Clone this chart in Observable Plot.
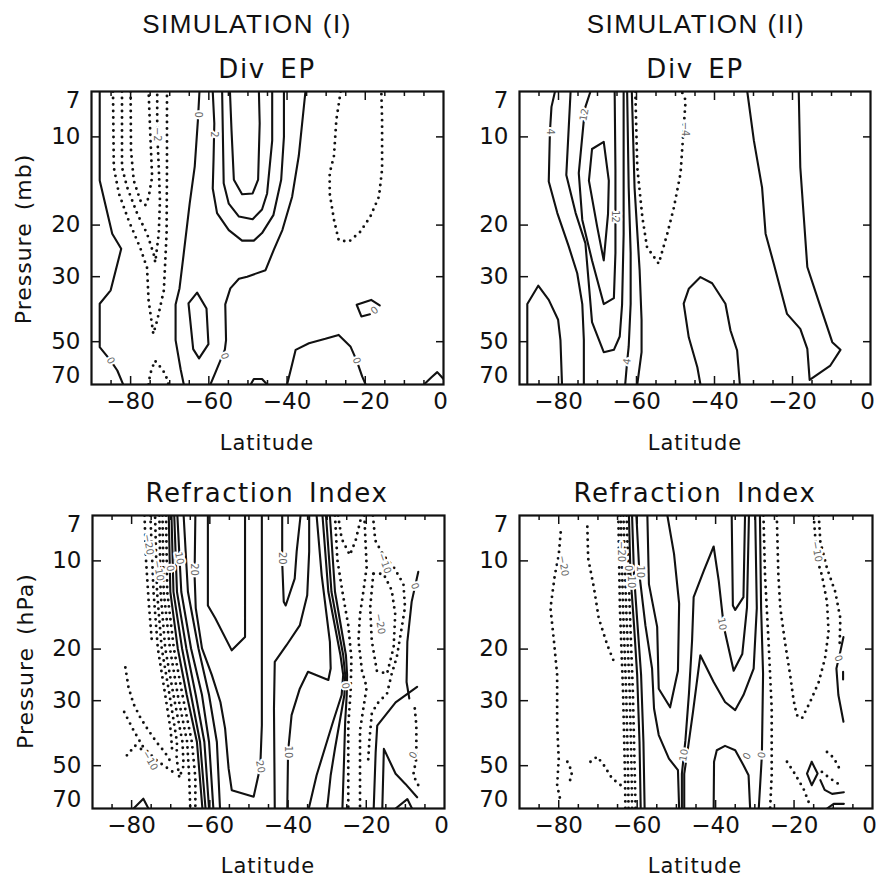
<!DOCTYPE html>
<html><head><meta charset="utf-8">
<script src="https://cdn.jsdelivr.net/npm/d3@7"></script>
<script src="https://cdn.jsdelivr.net/npm/@observablehq/plot@0.6"></script>
<style>
body{margin:0;background:#fff;}
#root{position:relative;width:877px;height:877px;overflow:hidden;background:#fff;}
#root svg{position:absolute;}
</style></head><body><div id="root"></div>
<script>
// ---------- axis values ----------
const xMajor = [-80, -60, -40, -20];
const xMinor = [-85, -75, -70, -65, -55, -50, -45, -35, -30, -25, -15, -10, -5];
const xLabels = [-80, -60, -40, -20];
const xLabelEnd = [0];
const yTicks = [10, 20, 30, 50];
const yLabelsMid = [10, 20, 30, 50];
const yLabelTop = [7];
const yLabelBottom = [70];

// ---------- Panel 1: Div EP, simulation I  [lat, pressure] ----------
const divEP1Solid = [
  [[-87.9,7],[-87.9,14.1],[-84.7,21.4],[-82.4,24.1],[-85.1,33.4],[-87.9,37.1],[-87.9,52.2],[-85.1,58],[-83.4,62.7],[-81.9,70]],
  [[-62.4,7],[-62.8,8.8],[-63.6,12.6],[-64.9,16.9],[-66.4,24.9],[-67.5,32.9],[-68.5,37.3],[-68.5,49.4],[-67.2,62.2],[-66.4,70]],
  [[-65.2,37],[-63,34],[-60.6,38.5],[-60.1,51],[-62.5,57],[-64,53],[-65.2,37]],
  [[-54.6,7],[-54.2,9.5],[-53.6,14.0],[-51.5,15.7],[-48.8,15.6],[-47.4,14.0],[-47.0,9],[-47.2,7]],
  [[-56.6,7],[-56.2,14.4],[-54.9,16.9],[-52.3,18.7],[-48.8,19.1],[-46.4,17.7],[-45.1,15.6],[-43.8,10.3],[-43.8,7]],
  [[-59.0,7],[-58.6,9],[-58.8,12],[-59.0,15],[-57.9,18.2],[-54.9,20.8],[-51.5,22.6],[-48.5,22.6],[-46.4,21.3],[-43.5,18.5],[-41.5,14],[-40.8,10],[-40.8,7]],
  [[-35.3,7],[-37.0,11.6],[-38.7,16],[-41.2,20.8],[-43.4,24.3],[-45.5,28.5],[-50.2,30],[-52.3,30.5],[-54.5,32.9],[-55.8,37.3],[-55.6,49.4],[-55.9,53.2],[-58.3,63.6],[-59.6,70]],
  [[-49.3,70],[-48.5,67],[-46.4,67],[-45.1,70]],
  [[-40.0,70],[-39.0,62],[-37.8,53.3],[-34.4,50.6],[-30.2,48.9],[-26.8,47.4],[-23.8,51.9],[-22.2,58],[-20.8,65.7],[-19.9,70]],
  [[-16.3,37.6],[-18.5,36.0],[-22.2,37.4],[-21.0,41.0],[-18.8,40.3]],
  [[-5,70],[-3,66],[-1.6,63.5],[0,67]]
];
const divEP1Dotted = [
  [[-80.0,7],[-79.9,11.1],[-79.2,14.1],[-77.5,16.5],[-76.2,17.1],[-75.4,16.1],[-74.5,13.7],[-74.9,10.3],[-75.4,7]],
  [[-82.2,7],[-82.2,12.7],[-80.9,14.85],[-78.3,18.3],[-75.8,21.4],[-74.1,25.1],[-73.7,26.8],[-72.8,21.4],[-72.5,16.5],[-72.8,12.7],[-73.2,9.7],[-73.2,7]],
  [[-84.5,7],[-84.3,12.7],[-83.0,15.6],[-80.5,19.3],[-77.5,24],[-75.8,28],[-75.4,36.2],[-74.2,47.0],[-73.2,42.3],[-71.5,33.4],[-70.8,21.4],[-70.7,12.7],[-70.7,7]],
  [[-75.4,70],[-75.0,64.5],[-73.8,58],[-72.4,61],[-71.1,64.5],[-70.3,70]],
  [[-26.3,7],[-27.4,8.75],[-28.0,11.6],[-29.1,13.3],[-29.1,15.6],[-28.0,19.2],[-26.8,22.5],[-24.2,22.8],[-21.3,21.1],[-18.7,18.7],[-16.5,16.0],[-15.7,12.9],[-15.7,8.75],[-15.9,7]]
];
const divEP1Labels = [
  {lat:-62.8,p:8.4,t:"0",r:90},{lat:-58.7,p:9.8,t:"2",r:90},{lat:-73.2,p:9.8,t:"−2",r:90},
  {lat:-85.1,p:58,t:"0",r:60},{lat:-56.0,p:56,t:"0",r:70},{lat:-22.2,p:58,t:"0",r:70},{lat:-17.6,p:39.1,t:"0",r:-40}
];

// ---------- Panel 2: Div EP, simulation II ----------
const divEP2Solid = [
  [[-88.0,70],[-88.0,37.2],[-85.2,32.2],[-82.5,36.0],[-80.1,42.1],[-79.5,49.4],[-79.1,70]],
  [[-80.9,7],[-81.8,7.9],[-82.2,9.6],[-82.5,14.2],[-80.3,18.2],[-77.4,23.6],[-75.2,29.2],[-73.9,37.2],[-73.5,49.4],[-73.5,70]],
  [[-76.9,7],[-78.0,13.5],[-75.6,18.2],[-73.1,23.1],[-71.4,42.9],[-68.4,54.3],[-65.8,53.3],[-64.3,48],[-63.7,37.4],[-63.3,21.5],[-63.3,7]],
  [[-71.8,7],[-73.1,7.9],[-73.5,8.75],[-74.8,13.3],[-73.9,19.2],[-71.4,26.4],[-68.4,37.2],[-65.8,35.5],[-65.4,24.9],[-65.4,18.7],[-65.4,13.0],[-65.6,7]],
  [[-71.4,11.0],[-68.4,10.4],[-67.1,14.1],[-67.3,18.3],[-68.4,26.4],[-70.1,20.2],[-72.2,14.1],[-71.4,11.0]],
  [[-62.4,7],[-62.0,14.9],[-61.5,24.9],[-61.5,37.2],[-62.0,51.9],[-62.4,58.5],[-62.9,70]],
  [[-61.2,7],[-60.5,14.9],[-59.2,28.5],[-58.7,42.1],[-58.7,54.3],[-59.8,70]],
  [[-43.6,70],[-44.4,61.1],[-46.6,48.3],[-47.9,37.1],[-46.6,33],[-43.6,30.1],[-40.6,31.6],[-37.2,37.1],[-35.9,45.8],[-34.2,53.6],[-33.5,70]],
  [[-31.6,7],[-29.9,10.3],[-27.8,14.9],[-26.9,21.4],[-24.8,27.1],[-21.4,40.2],[-18.0,45.2],[-16.2,52.9],[-15.6,67.5],[-10.3,60.3],[-7.7,53.3],[-9.8,50.2],[-12.8,38.1],[-16.2,27.8],[-17.1,18.8],[-18.0,12.7],[-18.4,7]]
];
const divEP2Dotted = [
  [[-60.3,7],[-59.8,12.7],[-58.5,18.8],[-57.3,23.8],[-54.3,27.1],[-52.1,21.4],[-50.4,17.4],[-48.7,13.3],[-47.9,9.3],[-47.4,7.5],[-48.3,7.05]]
];
const divEP2Labels = [
  {lat:-82.2,p:9.6,t:"4",r:90},{lat:-73.4,p:8.4,t:"12",r:-80},{lat:-65.4,p:18.7,t:"12",r:90},
  {lat:-62.4,p:58.5,t:"4",r:-80},{lat:-47.6,p:9.4,t:"−4",r:90}
];

// ---------- Panel 3: Refraction index, simulation I ----------
const refr1Solid = [
  [[-70.5,7],[-70.1,12.75],[-68.2,19.9],[-65.9,28.7],[-63.3,41.5],[-61.9,70]],
  [[-69.8,7],[-69.3,12.75],[-67.1,19.9],[-64.8,28.7],[-62.5,41.5],[-61.1,70]],
  [[-69.1,7],[-68.4,12.75],[-66.0,19.9],[-63.6,28.7],[-61.4,41.5],[-60.2,70]],
  [[-68.3,7],[-67.3,12.75],[-64.8,19.9],[-62.0,28.7],[-60.2,41.5],[-59.1,70]],
  [[-66.7,7],[-65.6,12.75],[-62.9,19.9],[-60.2,28.7],[-58.2,41.5],[-57.4,70]],
  [[-63.7,7],[-63.9,11.2],[-63.6,14.5],[-62.0,19.9],[-59.5,24.5],[-57.3,30.3],[-56.1,37.3],[-55.2,51.1],[-54.4,60.6],[-48.8,63.8],[-47.1,50.4],[-46.7,36.4],[-46.7,7]],
  [[-60.5,7],[-60.5,14.2],[-58.6,15.7],[-54.4,20.2],[-51.0,18.2],[-51.0,7]],
  [[-41.5,7],[-41.5,10.1],[-41.1,13.8],[-40.6,14.2],[-38.3,11.5],[-37.8,9.3],[-36.8,7]],
  [[-34.6,7],[-34.6,9.3],[-35.1,13.1],[-37.0,16.6],[-40.4,19.4],[-43.4,22.1],[-43.6,31.9],[-43.4,70]],
  [[-32.7,7],[-31.4,11.2],[-29.3,18.9],[-29.1,23.3],[-29.7,25.5],[-34.9,23.9],[-37.0,27.3],[-39.1,33.6],[-40.0,44.9],[-40.2,70]],
  [[-31.2,7],[-29.7,12.75],[-26.6,21.0],[-25.9,24.5],[-26.3,28.7],[-28.5,35.4],[-30.6,43.7],[-32.7,53.9],[-34.7,70]],
  [[-30.3,7],[-28.9,12.75],[-25.9,21.0],[-25.4,24.5],[-25.6,28.7],[-26.8,35.4],[-28.0,43.7],[-29.1,53.9],[-30.0,70]],
  [[-29.3,7],[-28.0,12.75],[-25.2,21.0],[-24.9,24.5],[-25.0,28.7],[-25.4,35.4],[-25.7,48.5],[-26.1,70]],
  [[-6.7,10.9],[-8.4,13.8],[-9.5,18.9],[-9.7,25.9],[-9.0,29.5]],
  [[-7.0,26.9],[-12.5,30.4],[-17.2,36.5],[-17.6,45],[-18.1,70]],
  [[-15.9,70],[-15.5,43.8],[-12.5,53.3],[-10.0,57.7],[-7.0,64.1]],
  [[-12.5,70],[-9.5,65],[-8.3,70]],
  [[-79.5,70],[-77.0,64.8],[-75.7,70]]
];
const refr1Dotted = [
  [[-71.2,7],[-70.9,12.75],[-69.2,19.9],[-67.0,28.7],[-64.6,41.5],[-63.7,55],[-63.7,70]],
  [[-72.1,7],[-71.8,12.75],[-70.2,19.9],[-68.2,28.7],[-65.8,41.5],[-65.3,53.9],[-65.0,70]],
  [[-72.9,7],[-72.6,12.75],[-71.4,19.9],[-69.3,28.7],[-67.0,41.5],[-66.7,50],[-67.8,55],[-68.5,47],[-68.4,41.5],[-70.3,28.7],[-72.3,19.9],[-73.5,12.75],[-74.0,7]],
  [[-75.2,7],[-74.4,12.75],[-73.3,19.9],[-71.4,28.7],[-70.0,38],[-69.6,45]],
  [[-76.7,7],[-76.3,10],[-75.6,14],[-74.8,19]],
  [[-81.6,23.1],[-80.8,27.0],[-79.5,30.8],[-77.8,34.2],[-75.7,37.9],[-73.6,41.6],[-71.5,45],[-70.2,48]],
  [[-81.9,32.8],[-79.5,37.9],[-77.0,43.3],[-73.6,48],[-69.5,52.5]],
  [[-81.2,46.1],[-79.1,42.7],[-77.4,44]],
  [[-28.0,7],[-27.4,9.9],[-26.1,12.75],[-24.6,16.6],[-23.8,21.5],[-24.0,28.0],[-24.6,36.4],[-24.6,47.3],[-24.6,70]],
  [[-27.2,7],[-26.3,8.4],[-24.2,9.56],[-22.7,8.5],[-21.2,7]],
  [[-20.5,7],[-19.9,10.5],[-20.7,12.6],[-21.6,15.2],[-22.0,18.7],[-21.1,23.7],[-19.9,27.0],[-20.7,31.6],[-21.6,37.9],[-21.6,70]],
  [[-18.3,7],[-17.7,8.52],[-15.6,9.58],[-13.0,10.5],[-10.5,12.0],[-10.1,14.4],[-10.9,16.8],[-12.2,21.3],[-13.5,24.3],[-14.7,28.4],[-17.3,30.8],[-18.6,33.3],[-19.2,41.0],[-19.6,50]],
  [[-18.2,11.07],[-19.0,14.4],[-18.6,18.7],[-17.3,23.7],[-14.7,24.3],[-13.0,19.7],[-12.6,15.2],[-13.5,12.6],[-15.6,11.07],[-18.2,11.07]],
  [[-7.6,31.9],[-7.2,36.4],[-7.2,47.3],[-8.0,53.9],[-6.7,58.3]]
];
const refr1Labels = [
  {lat:-75.7,p:8.8,t:"−20",r:80},{lat:-73.1,p:10.8,t:"−10",r:80},{lat:-70.1,p:10.6,t:"0",r:80},
  {lat:-67.8,p:9.8,t:"10",r:80},{lat:-63.9,p:10.7,t:"20",r:90},{lat:-47.1,p:50.4,t:"20",r:80},
  {lat:-41.6,p:9.8,t:"20",r:90},{lat:-40.0,p:44.9,t:"10",r:90},{lat:-25.3,p:26.7,t:"0",r:80},
  {lat:-15.3,p:10.2,t:"−10",r:70},{lat:-16.5,p:16.4,t:"−20",r:80},{lat:-7.6,p:12.2,t:"0",r:70},
  {lat:-8.0,p:46,t:"0",r:-60},{lat:-75.3,p:48,t:"−10",r:60}
];

// ---------- Panel 4: Refraction index, simulation II ----------
const refr2Solid = [
  [[-62.1,7],[-61.7,11.2],[-60.8,16.6],[-60.0,24.5],[-59.4,41.5],[-59.1,70]],
  [[-61.3,7],[-60.8,11.2],[-59.9,16.6],[-59.0,24.5],[-58.4,41.5],[-58.1,70]],
  [[-60.2,7],[-59.4,11.2],[-57.9,16.6],[-56.2,23.3],[-55.7,31.9],[-54.5,39.3],[-51.9,47.3],[-49.6,51.8],[-49.3,70]],
  [[-57.4,7],[-57.0,12.0],[-54.9,16.8],[-54.5,27.3],[-51.6,31.6],[-49.6,23.7],[-49.3,14.0],[-50.6,9.46],[-52.3,7]],
  [[-48.6,70],[-48.6,53.3],[-47.7,41.0],[-46.8,28.4],[-46.0,18.7],[-45.6,13.3],[-43.0,10.8],[-40.5,8.93],[-39.2,11.7],[-37.9,16.8],[-35.4,23.7],[-33.2,20.8],[-32.0,14.4],[-31.5,7]],
  [[-48.0,70],[-48.0,53.3],[-47.2,45],[-45.8,33],[-43.9,21.0],[-40.5,25.9],[-37.6,30.3],[-35.0,32.3],[-32.9,28.7],[-30.3,23.3],[-29.5,14.5],[-29.9,7]],
  [[-35.9,7],[-35.6,14.2],[-35.0,14.7],[-32.9,13.3],[-32.5,7]],
  [[-28.7,7],[-28.4,14.5],[-27.9,24.3],[-28.2,46.0],[-29.0,70]],
  [[-40.5,70],[-40.4,48.5],[-39.7,44.3],[-37.6,42.8],[-35.0,44.3],[-32.9,49.8],[-31.6,53.9],[-31.2,70]],
  [[-7.4,18.2],[-8.2,20.4],[-9.2,23.3],[-8.7,28.7],[-7.4,35.4]],
  [[-7.5,23.9],[-7.5,25.4]],
  [[-15.5,48.5],[-14.0,53.2],[-15.5,58.3],[-16.7,53.2],[-15.5,48.5]],
  [[-13.3,56],[-12.2,60.5],[-10.3,62.4],[-7.3,61.6]],
  [[-11.6,70],[-9.9,67.5],[-7.3,67.5]]
];
const refr2Dotted = [
  [[-62.7,7],[-61.9,14.5],[-61.1,28.0],[-60.6,53.9],[-60.4,70]],
  [[-63.5,7],[-62.8,14.5],[-61.9,28.0],[-61.4,53.9],[-61.3,70]],
  [[-64.2,7],[-63.6,14.5],[-62.8,28.0],[-62.3,53.9],[-62.2,70]],
  [[-64.8,7],[-64.4,14.5],[-63.6,28.0],[-63.1,53.9],[-63.0,70]],
  [[-79.5,8.0],[-80.0,9.56],[-81.0,11.2],[-82.1,14.5],[-81.2,18.9],[-80.4,24.5],[-80.4,36.4],[-80.0,47.3],[-80.4,58.3],[-79.5,66.4]],
  [[-72.7,7.65],[-72.5,9.8],[-71.0,12.4],[-69.8,15.7],[-67.6,19.4],[-65.5,22.8]],
  [[-71.9,48.5],[-70.2,46.6],[-68.5,49.8],[-66.4,55.3],[-64.2,58.3]],
  [[-77.8,48.5],[-76.6,52.5],[-77.4,58.3]],
  [[-27.8,7],[-27.4,11.2],[-26.5,18.9],[-25.7,31.9],[-25.7,53.9],[-26.1,70]],
  [[-24.4,7],[-24.0,11.2],[-23.5,14.5],[-22.3,19],[-21.0,24.5],[-20.1,30],[-19.3,33.6],[-18.0,34.5],[-15.9,30.3],[-13.7,25.9],[-12.1,21.5],[-11.2,17.5],[-11.6,13.8],[-12.9,11.2],[-14.2,9.8],[-15.0,7]],
  [[-13.7,7],[-13.3,8.6],[-11.6,10.6],[-9.5,12.75],[-8.2,15.7],[-8.4,19.9]],
  [[-21.8,48.5],[-20.1,52.5],[-17.6,59.9],[-16.3,66.4]],
  [[-11.6,44.9],[-9.9,47],[-8.2,51.8]],
  [[-12.9,52.5],[-10.8,55.3],[-8.2,58.3]]
];
const refr2Labels = [
  {lat:-78.8,p:10.4,t:"−20",r:80},{lat:-64.0,p:9.3,t:"−20",r:90},{lat:-62.4,p:10.6,t:"0",r:90},
  {lat:-61.4,p:11.8,t:"10",r:90},{lat:-59.2,p:10.9,t:"10",r:90},{lat:-48.1,p:46.0,t:"10",r:-80},
  {lat:-38.4,p:16.4,t:"10",r:80},{lat:-32.0,p:46.4,t:"0",r:-60},{lat:-28.2,p:46.0,t:"0",r:-80},
  {lat:-8.7,p:21.5,t:"0",r:70},{lat:-14.2,p:9.3,t:"−10",r:80}
];

// ---------- drawing ----------
function flat(polys) {
  const out = [];
  polys.forEach((pl, i) => pl.forEach(([lat, p]) => out.push({id: i, lat, p})));
  return out;
}
const INK = "#111";
function panel({w, h, ml, mr, mt, mb, solid, dotted, labels}) {
  const tk = {stroke: INK, strokeWidth: 1.5, label: null, tickFormat: () => ""};
  const txt = {fontSize: 23, fill: INK, label: null};
  return Plot.plot({
    width: w, height: h, marginLeft: ml, marginRight: mr, marginTop: mt, marginBottom: mb,
    style: {background: "transparent", overflow: "visible", fontFamily: "DejaVu Sans", color: INK},
    x: {domain: [-90, 0], label: null},
    y: {type: "log", domain: [7, 70], reverse: true, label: null},
    marks: [
      Plot.line(flat(solid), {x: "lat", y: "p", z: "id", stroke: INK, strokeWidth: 2.1, strokeLinejoin: "round", clip: true}),
      Plot.line(flat(dotted), {x: "lat", y: "p", z: "id", stroke: INK, strokeWidth: 2.9, strokeLinecap: "round", strokeDasharray: "0,6.5", clip: true}),
      Plot.text(labels, {x: "lat", y: "p", text: "t", rotate: "r", fontSize: 10, fill: "#666", stroke: "#fff", strokeWidth: 4, paintOrder: "stroke"}),
      Plot.axisX(xMinor, {anchor: "bottom", tickSize: -4, ...tk}),
      Plot.axisX(xMajor, {anchor: "bottom", tickSize: -8, ...tk}),
      Plot.axisX(xMinor, {anchor: "top", tickSize: -4, ...tk}),
      Plot.axisX(xMajor, {anchor: "top", tickSize: -8, ...tk}),
      Plot.axisY(yTicks, {anchor: "left", tickSize: -9, ...tk}),
      Plot.axisY(yTicks, {anchor: "right", tickSize: -8, ...tk}),
      Plot.axisX(xLabels, {anchor: "bottom", tickSize: 0, tickPadding: 8, ...txt}),
      Plot.axisX(xLabelEnd, {anchor: "bottom", tickSize: 0, tickPadding: 8, dx: -3, ...txt}),
      Plot.axisY(yLabelsMid, {anchor: "left", tickSize: 0, tickPadding: 11, ...txt}),
      Plot.axisY(yLabelTop, {anchor: "left", tickSize: 0, tickPadding: 11, dy: 9, ...txt}),
      Plot.axisY(yLabelBottom, {anchor: "left", tickSize: 0, tickPadding: 11, dy: -9, ...txt}),
      Plot.frame({stroke: INK, strokeWidth: 2.2})
    ]
  });
}

const root = document.getElementById("root");
function place(svg, left, top) { svg.style.left = left + "px"; svg.style.top = top + "px"; svg.style.position = "absolute"; root.appendChild(svg); }

place(panel({w: 462, h: 460, ml: 91, mr: 19, mt: 91, mb: 76, solid: divEP1Solid, dotted: divEP1Dotted, labels: divEP1Labels}), 0, 0);
place(panel({w: 415, h: 460, ml: 57, mr: 7, mt: 91, mb: 76, solid: divEP2Solid, dotted: divEP2Dotted, labels: divEP2Labels}), 462, 0);
place(panel({w: 462, h: 417, ml: 92, mr: 18, mt: 55, mb: 69, solid: refr1Solid, dotted: refr1Dotted, labels: refr1Labels}), 0, 460);
place(panel({w: 415, h: 417, ml: 57, mr: 5, mt: 55, mb: 69, solid: refr2Solid, dotted: refr2Dotted, labels: refr2Labels}), 462, 460);

// ---------- titles and axis titles ----------
const ns = "http://www.w3.org/2000/svg";
const ov = document.createElementNS(ns, "svg");
ov.setAttribute("width", 877); ov.setAttribute("height", 877);
ov.style.left = "0px"; ov.style.top = "0px"; ov.style.pointerEvents = "none";
function addText(s, x, y, opt) {
  const t = document.createElementNS(ns, "text");
  t.textContent = s;
  t.setAttribute("x", x); t.setAttribute("y", y);
  t.setAttribute("text-anchor", "middle");
  t.setAttribute("fill", INK);
  t.setAttribute("font-family", opt.font || "DejaVu Sans");
  t.setAttribute("font-size", opt.size);
  if (opt.ls) t.setAttribute("letter-spacing", opt.ls);
  if (opt.rot) t.setAttribute("transform", `rotate(${opt.rot} ${x} ${y})`);
  if (opt.baseline) t.setAttribute("dominant-baseline", opt.baseline);
  ov.appendChild(t);
}
addText("SIMULATION (I)", 247, 33, {font: "Liberation Sans", size: 26, ls: 1.5});
addText("SIMULATION (II)", 696, 33, {font: "Liberation Sans", size: 26, ls: 1.5});
addText("Div\u2002EP", 267, 78, {size: 26, ls: 1.6});
addText("Div\u2002EP", 695, 78, {size: 26, ls: 1.6});
addText("Refraction\u2002Index", 267, 502, {size: 26, ls: 1.6});
addText("Refraction\u2002Index", 695, 502, {size: 26, ls: 1.6});
addText("Latitude", 267, 450, {size: 21, ls: 1});
addText("Latitude", 695, 450, {size: 21, ls: 1});
addText("Latitude", 268, 873, {size: 21, ls: 1});
addText("Latitude", 695, 873, {size: 21, ls: 1});
addText("Pressure\u2002(mb)", 23, 239, {size: 22, ls: 1, rot: -90, baseline: "central"});
addText("Pressure\u2002(hPa)", 25, 661, {size: 22, ls: 1, rot: -90, baseline: "central"});
root.appendChild(ov);
</script></body></html>
